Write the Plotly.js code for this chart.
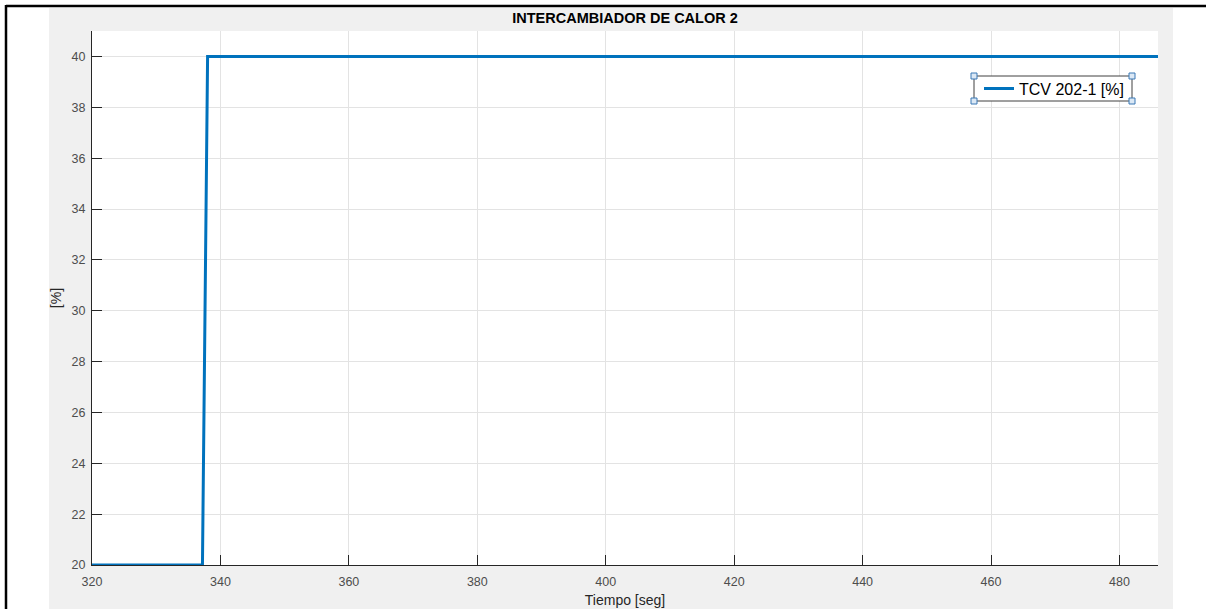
<!DOCTYPE html>
<html>
<head>
<meta charset="utf-8">
<script src="https://cdn.plot.ly/plotly-3.0.1.min.js"></script>
<style>html,body{margin:0;padding:0;background:#fff;}#chart{width:1206px;height:609px;}</style>
</head>
<body>
<div id="chart"></div>
<script>
// Data
const tiempo = [320, 337.2, 338, 486];
const tcv202 = [20, 20, 40, 40];
const seriesName = 'TCV 202-1 [%]';
const xTicks = [320, 340, 360, 380, 400, 420, 440, 460, 480];
const yTicks = [20, 22, 24, 26, 28, 30, 32, 34, 36, 38, 40];

// layout geometry (pixels)
const W = 1206, H = 609;
const L = 92, R = 1158, T = 31, B = 565;
const pw = R - L, ph = B - T;
const px = v => (v - L) / pw;
const py = v => 1 - (v - T) / ph;

// legend box (pixels)
const LB = {x0: 974, x1: 1132, y0: 76, y1: 101};

const shapes = [
  // grey figure background
  {type:'rect', xref:'paper', yref:'paper', x0:px(49), x1:px(1173), y0:py(612), y1:py(8),
   fillcolor:'#f0f0f0', line:{width:0}, layer:'below'},
  // white axes area
  {type:'rect', xref:'paper', yref:'paper', x0:0, x1:1, y0:0, y1:1,
   fillcolor:'#ffffff', line:{width:0}, layer:'below'},
  // black frame lines
  {type:'line', xref:'paper', yref:'paper', x0:px(6), x1:px(1210), y0:py(6), y1:py(6),
   line:{color:'#000', width:2.5}, layer:'below'},
  {type:'line', xref:'paper', yref:'paper', x0:px(6), x1:px(6), y0:py(5), y1:py(612),
   line:{color:'#000', width:2.5}, layer:'below'},
  // legend box
  {type:'rect', xref:'paper', yref:'paper', x0:px(LB.x0), x1:px(LB.x1), y0:py(LB.y1), y1:py(LB.y0),
   fillcolor:'#ffffff', line:{color:'#404040', width:1}, layer:'above'}
];
// legend selection handles
[LB.x0, LB.x1].forEach(x => [LB.y0, LB.y1].forEach(y => {
  shapes.push({type:'rect', xref:'paper', yref:'paper', x0:px(x-3), x1:px(x+3), y0:py(y+3), y1:py(y-3),
    fillcolor:'#dbe8f5', line:{color:'#3a78b5', width:1}, layer:'above'});
}));

const trace = {
  x: tiempo, y: tcv202, type:'scatter', mode:'lines', name: seriesName,
  line:{color:'#0072BD', width:3}, cliponaxis:false
};

const font = 'Liberation Sans, Arial, Helvetica, sans-serif';
const layout = {
  width: W, height: H,
  margin:{l:L, r:W-R, t:T, b:H-B, pad:0},
  paper_bgcolor:'#ffffff', plot_bgcolor:'rgba(0,0,0,0)',
  font:{family:font, color:'#262626', size:12},
  title:{text:'<b>INTERCAMBIADOR DE CALOR 2</b>', font:{family:font, size:14.5, color:'#000'},
         x:px(625), xanchor:'center', xref:'paper', y:1-18/H, yanchor:'middle', yref:'container'},
  xaxis:{range:[320,486], tickvals:xTicks, ticktext:xTicks.map(String),
    showgrid:true, gridcolor:'#e3e3e3', gridwidth:1, zeroline:false,
    showline:true, linecolor:'#262626', linewidth:1, mirror:false,
    ticks:'inside', ticklen:10, tickcolor:'#262626', tickwidth:1,
    tickfont:{family:font, size:12.5, color:'#4d4d4d'}, ticklabelstandoff:5,
    title:{text:'Tiempo [seg]', font:{family:font, size:14, color:'#262626'}, standoff:7},
    automargin:false, fixedrange:true},
  yaxis:{range:[20,41], tickvals:yTicks, ticktext:yTicks.map(String),
    showgrid:true, gridcolor:'#e3e3e3', gridwidth:1, zeroline:false,
    showline:true, linecolor:'#262626', linewidth:1, mirror:false,
    ticks:'inside', ticklen:10, tickcolor:'#262626', tickwidth:1,
    tickfont:{family:font, size:12.5, color:'#4d4d4d'}, ticklabelstandoff:3,
    title:{text:'[%]', font:{family:font, size:14, color:'#262626'}, standoff:6},
    automargin:false, fixedrange:true},
  showlegend:true,
  legend:{x:px(979), xanchor:'left', y:py((LB.y0+LB.y1)/2), yanchor:'middle',
    bgcolor:'rgba(0,0,0,0)', borderwidth:0,
    font:{family:font, size:16, color:'#000'}, tracegroupgap:0},
  shapes: shapes
};

Plotly.newPlot('chart', [trace], layout, {staticPlot:true, displayModeBar:false});
</script>
</body>
</html>
